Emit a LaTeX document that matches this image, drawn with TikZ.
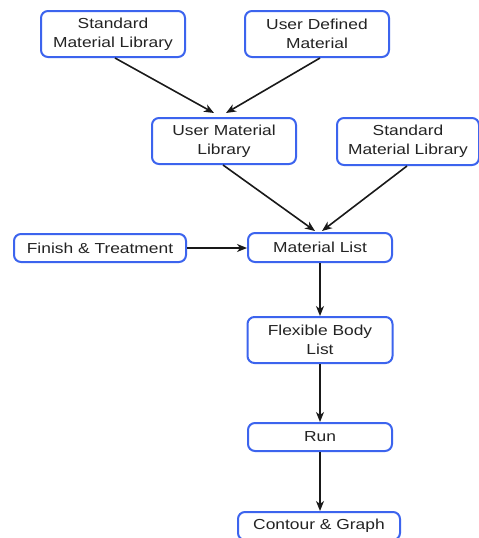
\documentclass[tikz,border=0pt]{standalone}
\usepackage{fontspec}
\setmainfont{Liberation Sans}[FakeStretch=1.2]
\usetikzlibrary{arrows.meta,calc}
\definecolor{boxblue}{RGB}{60,100,238}
\definecolor{txt}{RGB}{35,35,35}
\begin{document}
\begin{tikzpicture}[x=1pt,y=-1pt,
  box/.style={draw=boxblue,line width=2pt,rounded corners=7pt,fill=white,
    align=center,inner sep=0pt,text=txt,
    font=\fontsize{14.5}{19}\selectfont},
  arr/.style={draw=black!90,line width=1.6pt,-{Stealth[length=10pt,width=8pt,inset=3pt]}}]
\useasboundingbox (0,0) rectangle (479,538);
\fill[white] (0,0) rectangle (479,538);
\node[box,minimum width=144pt,minimum height=46pt] (sml1) at (113,34) {Standard\\Material Library};
\node[box,minimum width=144pt,minimum height=46pt] (udm) at (317,34) {User Defined\\Material};
\node[box,minimum width=144pt,minimum height=46pt] (uml) at (224,141) {User Material\\Library};
\node[box,minimum width=142pt,minimum height=47pt] (sml2) at (408,141.5) {Standard\\Material Library};
\node[box,minimum width=144pt,minimum height=29pt] (ml) at (320,247.5) {Material List};
\node[box,minimum width=172pt,minimum height=28pt] (ft) at (100,248) {Finish \& Treatment};
\node[box,minimum width=145pt,minimum height=46pt] (fbl) at (320,340) {Flexible Body\\List};
\node[box,minimum width=144pt,minimum height=28pt] (run) at (320,437) {Run};
\node[box,minimum width=162pt,minimum height=28pt] (cg) at (319,526) {Contour \& Graph};
\coordinate (t1) at (214,113);
\coordinate (t2) at (226,113);
\coordinate (t3) at (315,231);
\coordinate (t4) at (322,231);
\draw[arr] ([xshift=2pt]sml1.south) -- (t1);
\draw[arr] ([xshift=3pt]udm.south) -- (t2);
\draw[arr] ([xshift=-1pt]uml.south) -- (t3);
\draw[arr] ([xshift=-1pt]sml2.south) -- (t4);
\draw[arr] (ft.east) -- (ft.east -| ml.west);
\draw[arr] (ml.south) -- (fbl.north);
\draw[arr] (fbl.south) -- (run.north);
\draw[arr] (run.south) -- (run.south |- cg.north);
\end{tikzpicture}
\end{document}
